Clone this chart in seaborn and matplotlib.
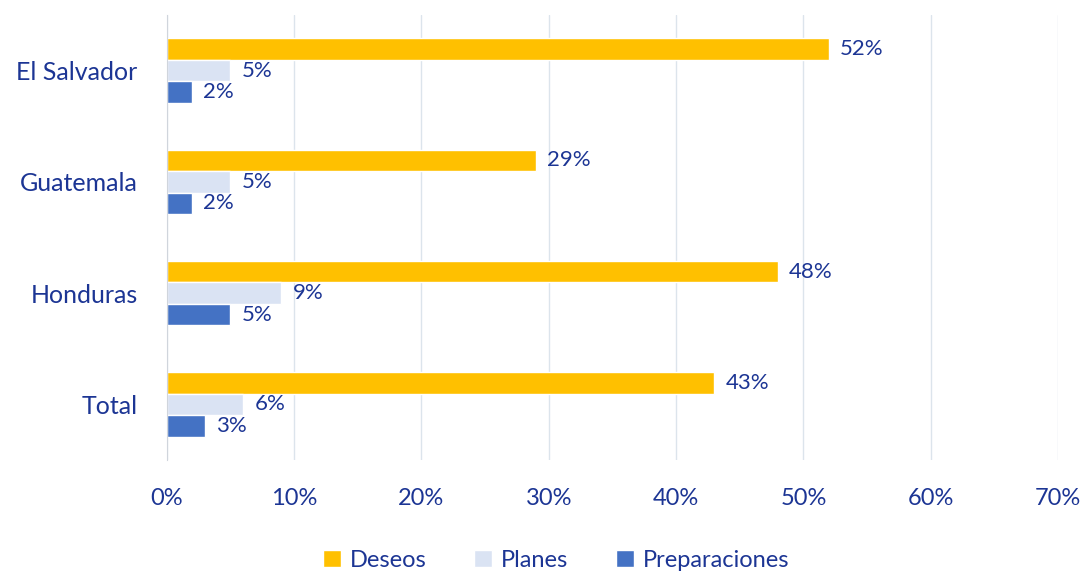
import pandas as pd
import matplotlib.pyplot as plt
import seaborn as sns
from matplotlib.ticker import PercentFormatter

# data
paises = ['El Salvador', 'Guatemala', 'Honduras', 'Total']
deseos = [0.52, 0.29, 0.48, 0.43]
planes = [0.05, 0.05, 0.09, 0.06]
preparaciones = [0.02, 0.02, 0.05, 0.03]
series = ['Deseos', 'Planes', 'Preparaciones']
colores = ['#FFC000', '#DAE3F3', '#4472C4']
texto = '#1C3594'

df = pd.DataFrame({'pais': paises, 'Deseos': deseos, 'Planes': planes, 'Preparaciones': preparaciones})
df_long = df.melt(id_vars='pais', var_name='serie', value_name='valor')

sns.set_style('white')
plt.rcParams['font.family'] = ['Lato', 'DejaVu Sans']

fig = plt.figure(figsize=(10.83, 5.75), dpi=100)
ax = fig.add_axes([0.154, 0.2, 0.823, 0.774])

sns.barplot(data=df_long, y='pais', x='valor', hue='serie', hue_order=series,
            order=paises, palette=colores, width=0.58, orient='h', ax=ax,
            saturation=1, legend=True)

for cont in ax.containers:
    ax.bar_label(cont, labels=[f'{v * 100:.0f}%' for v in cont.datavalues],
                 padding=8, fontsize=16, color=texto)

ax.set_xlim(0, 0.7)
ax.set_ylim(3.5, -0.5)
ax.xaxis.set_major_locator(plt.MultipleLocator(0.1))
ax.xaxis.set_major_formatter(PercentFormatter(1.0, decimals=0))
ax.grid(axis='x', color='#DCE4EC', linewidth=1)
ax.set_axisbelow(True)
ax.set_xlabel('')
ax.set_ylabel('')
ax.tick_params(axis='x', length=0, labelsize=17, labelcolor=texto, pad=20)
ax.tick_params(axis='y', length=0, labelsize=18, labelcolor=texto, pad=21)
for s in ['top', 'right', 'bottom']:
    ax.spines[s].set_visible(False)
ax.spines['left'].set_color('#D0D5DC')

ax.legend(loc='center', bbox_to_anchor=(0.437, -0.225), ncol=3, frameon=False,
          fontsize=17, labelcolor=texto, handlelength=0.75, handleheight=0.75,
          handletextpad=0.4, columnspacing=2.0)

plt.savefig('out.png', dpi=100)
